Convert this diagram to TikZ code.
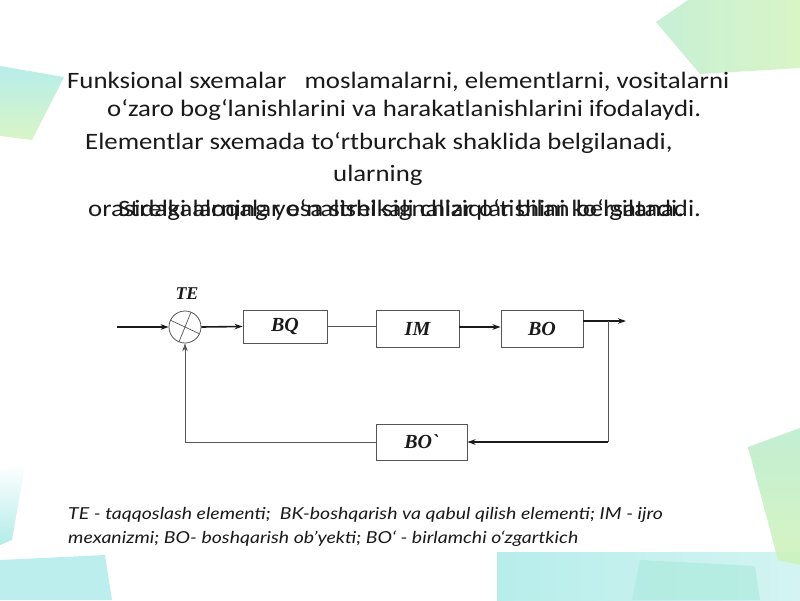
\documentclass[tikz,border=0pt]{standalone}
\usepackage{fontspec}
\usepackage{graphicx}
\setmainfont{Carlito}
\newfontfamily\legendfont{Lato}
\newfontfamily\blockfont{Liberation Serif}
\usetikzlibrary{arrows.meta,calc}
\newcommand\widetitle[1]{\scalebox{1.14}[1]{#1}}
\newcommand\widelegend[1]{\scalebox{1.18}[1]{#1}}
\definecolor{txt}{HTML}{1A1A1A}
\definecolor{boxline}{HTML}{555555}
\definecolor{teal1}{HTML}{9FE8E4}
\definecolor{green1}{HTML}{CDF2B4}
\definecolor{green2}{HTML}{B4EBC8}
\tikzset{
  blk/.style={draw=boxline, line width=0.9pt, fill=white, inner sep=0pt,
    font=\blockfont\bfseries\itshape\fontsize{20}{22}\selectfont, text=txt},
  sumnode/.style={draw=boxline, line width=0.8pt, circle, minimum size=32pt, inner sep=0pt},
  thick line/.style={line width=1.6pt, draw=txt},
  thin line/.style={line width=0.7pt, draw=boxline},
  tip/.style={-{Stealth[length=8pt,width=5.5pt]}},
  titleline/.style={anchor=base west, inner sep=0pt, text=txt,
    font=\fontsize{23.5}{27}\selectfont},
  legendline/.style={anchor=base west, inner sep=0pt, text=txt,
    font=\legendfont\itshape\fontsize{16.5}{20}\selectfont},
}
\begin{document}
\begin{tikzpicture}[x=1pt,y=-1pt]
\useasboundingbox (0,0) rectangle (800,600);
\fill[white] (0,0) rectangle (800,600);
% background decorations
\shade[left color=green2, right color=green1, opacity=0.75] (656,22) -- (688,0) -- (800,0) -- (800,68) -- (700,74) -- cycle;
\shade[top color=teal1, bottom color=green1, opacity=0.75] (0,66) -- (64,77) -- (32,140) -- (0,136) -- cycle;
\shade[top color=white, bottom color=teal1, opacity=0.8] (0,470) -- (25,465) -- (12,540) -- (0,545) -- cycle;
\fill[teal1, opacity=0.7] (0,560) -- (105,555) -- (112,600) -- (0,600) -- cycle;
\shade[left color=teal1, right color=teal1!60!white, opacity=0.75] (497,552) -- (800,552) -- (800,600) -- (497,600) -- cycle;
\fill[teal1!80!green1, opacity=0.6] (640,560) -- (755,566) -- (760,600) -- (632,600) -- cycle;
\shade[top color=green2, bottom color=green1, opacity=0.8] (748,447) -- (800,428) -- (800,565) -- (778,560) -- cycle;
% title text
\node[titleline] (t1) at (67,88) {\widetitle{Funksional sxemalar \ \ moslamalarni, elementlarni, vositalarni}};
\node[titleline] (t2) at (107,116) {\widetitle{o‘zaro bog`lanishlarini va harakatlanishlarini ifodalaydi.}};
\node[titleline] (t3) at (85,149) {\widetitle{Elementlar sxemada to‘rtburchak shaklida belgilanadi,}};
\node[titleline] (t4) at (333,181) {\widetitle{ularning}};
\node[titleline] (t5a) at (88,216) {\widetitle{orasidagi aloqalar esa strelkali chiziqlar bilan belgilanadi.}};
\node[titleline] (t5b) at (118,216) {\widetitle{Strelkalarning yo‘nalishi signallar o‘tishini ko‘rsatadi.}};
% diagram
\node[sumnode] (te) at (185,327) {};
\draw[thin line] ($(te.center)+(112:16)$) -- ($(te.center)+(292:16)$);
\draw[thin line] ($(te.center)+(205:16)$) -- ($(te.center)+(25:16)$);
\node[font=\blockfont\bfseries\itshape\fontsize{18}{20}\selectfont, text=txt] (telabel) at (187,294) {TE};
\node[blk, minimum width=84pt, minimum height=33pt] (bq) at (285,326.5) {BQ};
\node[blk, minimum width=83pt, minimum height=37pt] (im) at (417.5,328.5) {IM};
\node[blk, minimum width=82pt, minimum height=37pt] (bo) at (542,328.5) {BO};
\node[blk, minimum width=91pt, minimum height=36pt] (bop) at (421.5,442) {BO`};
\coordinate (in) at (117,327);
\coordinate (out) at (626,321);
\coordinate (br) at (608,321);
\coordinate (brd) at (608,442);
\draw[thick line, tip] (in) -- (te.west);
\draw[thick line, tip] (te.east) -- (bq.west);
\draw[thin line] (bq.east) -- (bq.east -| im.west);
\draw[thick line, tip] (im.east |- 0,327) -- (bo.west |- 0,327);
\draw[thick line, tip] (bo.east |- out) -- (out);
\draw[thin line] (br) -- (brd);
\draw[thick line, tip] (brd) -- (bop.east);
\draw[thin line, tip] (bop.west) -| (te.south);
% legend
\node[legendline] (l1) at (68,519) {\widelegend{TE - taqqoslash elementi; \ BK-boshqarish va qabul qilish elementi; IM - ijro}};
\node[legendline] (l2) at (68,543) {\widelegend{mexanizmi; BO- boshqarish ob’yekti; BO‘ - birlamchi o‘zgartkich}};
\end{tikzpicture}
\end{document}
